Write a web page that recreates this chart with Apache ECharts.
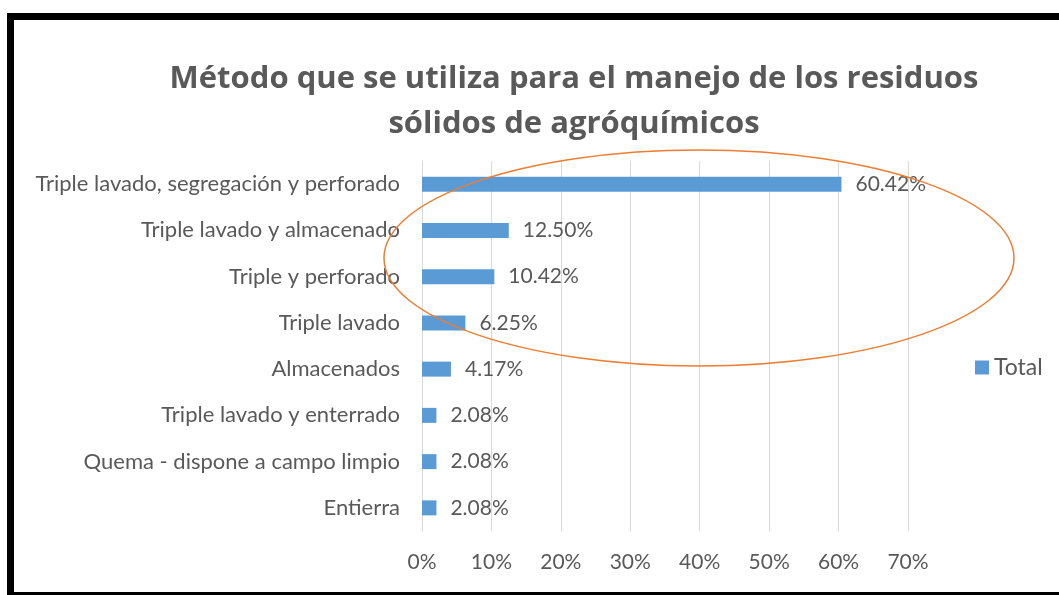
<!DOCTYPE html>
<html>
<head>
<meta charset="utf-8">
<script src="https://cdn.jsdelivr.net/npm/echarts@6/dist/echarts.min.js"></script>
<style>
  html, body { margin: 0; padding: 0; background: #fff; }
  #chart { width: 1059px; height: 595px; }
</style>
</head>
<body>
<div id="chart"></div>
<script>
// categorias (de arriba hacia abajo) y porcentajes
const categorias = [
  'Triple lavado, segregación y perforado',
  'Triple lavado y almacenado',
  'Triple y perforado',
  'Triple lavado',
  'Almacenados',
  'Triple lavado y enterrado',
  'Quema - dispone a campo limpio',
  'Entierra'
];
const valores = [60.42, 12.50, 10.42, 6.25, 4.17, 2.08, 2.08, 2.08];
const serieNombre = 'Total';
const titulo = 'Método que se utiliza para el manejo de los residuos\nsólidos de agróquímicos';

const gris = '#595959';
const fuente = 'Lato';

let myChart = echarts.init(document.getElementById('chart'));
let option = {
  animation: false,
  backgroundColor: '#fff',
  title: {
    text: titulo,
    left: 569,
    top: 52,
    textAlign: 'center',
    textStyle: {
      color: gris,
      fontFamily: 'Open Sans',
      fontWeight: 'bold',
      fontSize: 31,
      lineHeight: 45
    }
  },
  legend: {
    data: [serieNombre],
    left: 970,
    top: 351,
    icon: 'rect',
    itemWidth: 14,
    itemHeight: 14,
    itemGap: 6,
    textStyle: { color: gris, fontSize: 23, fontFamily: fuente }
  },
  grid: {
    left: 422,
    right: 151,
    top: 161,
    bottom: 64,
    containLabel: false
  },
  xAxis: {
    type: 'value',
    min: 0,
    max: 70,
    interval: 10,
    axisLine: { show: false },
    axisTick: { show: false },
    splitLine: { show: true, lineStyle: { color: '#d9d9d9', width: 1 } },
    axisLabel: {
      formatter: '{value}%',
      color: gris,
      fontSize: 21,
      fontFamily: fuente,
      margin: 21
    }
  },
  yAxis: {
    type: 'category',
    data: categorias,
    inverse: true,
    axisLine: { show: false },
    axisTick: { show: false },
    axisLabel: {
      color: gris,
      fontSize: 22,
      fontFamily: fuente,
      margin: 22
    }
  },
  series: [
    {
      name: serieNombre,
      type: 'bar',
      data: valores,
      barWidth: 15,
      itemStyle: { color: '#5b9bd5' },
      label: {
        show: true,
        position: 'right',
        distance: 14,
        color: gris,
        fontSize: 21,
        fontFamily: fuente,
        formatter: p => p.value.toFixed(2) + '%'
      }
    }
  ],
  graphic: [
    // marco negro
    { type: 'rect', shape: { x: 7, y: 13, width: 1052, height: 7 }, style: { fill: '#000' }, z: 100 },
    { type: 'rect', shape: { x: 7, y: 13, width: 7, height: 582 }, style: { fill: '#000' }, z: 100 },
    { type: 'rect', shape: { x: 7, y: 592, width: 1052, height: 3 }, style: { fill: '#000' }, z: 100 },
    // elipse naranja
    {
      type: 'ellipse',
      shape: { cx: 699, cy: 258, rx: 315, ry: 108 },
      style: { fill: null, stroke: '#ed7d31', lineWidth: 1.5 },
      z: 100
    }
  ]
};
myChart.setOption(option);
</script>
</body>
</html>
